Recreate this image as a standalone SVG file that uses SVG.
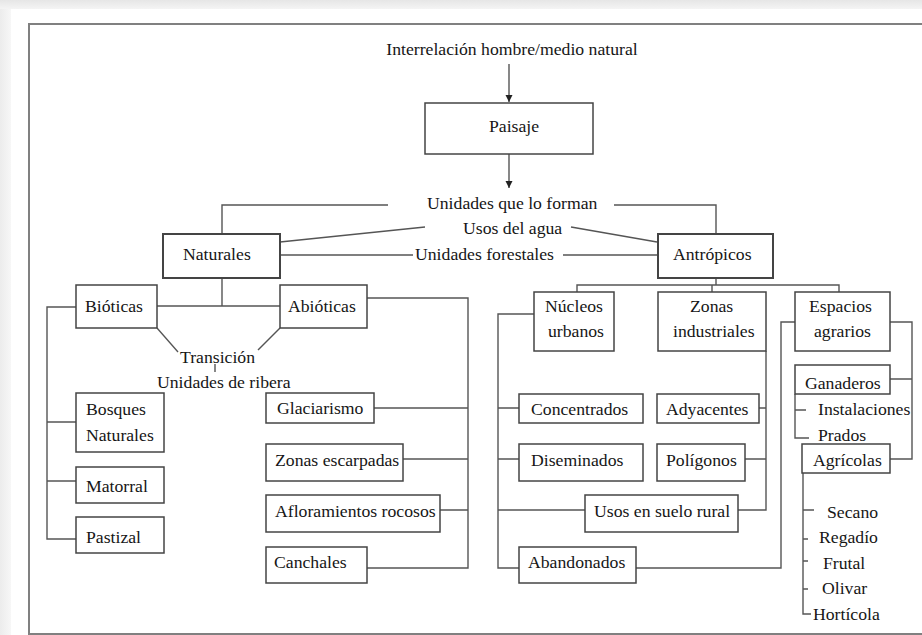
<svg xmlns="http://www.w3.org/2000/svg" width="922" height="635" viewBox="0 0 922 635">
<defs>
<linearGradient id="topband" x1="0" y1="0" x2="0" y2="1">
<stop offset="0" stop-color="#e6e6e6"/>
<stop offset="1" stop-color="#f4f4f4"/>
</linearGradient>
<linearGradient id="leftband" x1="0" y1="0" x2="1" y2="0">
<stop offset="0" stop-color="#ececec"/>
<stop offset="1" stop-color="#f7f7f7"/>
</linearGradient>
<marker id="arr" markerWidth="8" markerHeight="8" refX="7" refY="3.5" orient="auto" markerUnits="userSpaceOnUse">
<path d="M0,0 L7,3.5 L0,7 z" fill="#222"/>
</marker>
</defs>
<style>
.box{fill:#fff;stroke:#444;stroke-width:1.5}
.bold{stroke-width:2}
.t{font-family:"Liberation Serif","Times New Roman",serif;font-size:17.7px;fill:#161616}
.m{text-anchor:middle}
.ln{fill:none;stroke:#555;stroke-width:1.4}
</style>
<rect width="922" height="635" fill="#fff"/>
<rect x="0" y="0" width="922" height="9" fill="url(#topband)"/>
<rect x="0" y="9" width="11" height="626" fill="url(#leftband)"/>
<path d="M922,24 H29 V634 H922" fill="none" stroke="#808080" stroke-width="2"/>

<g id="connectors">
<path class="ln" d="M509,64 V102" marker-end="url(#arr)"/>
<path class="ln" d="M509,154 V188" marker-end="url(#arr)"/>
<path class="ln" d="M388,205 H222 V234"/>
<path class="ln" d="M614,205 H716 V234"/>
<path class="ln" d="M280,242 L425,227"/>
<path class="ln" d="M571,227 L657,242"/>
<path class="ln" d="M280,255 H413"/>
<path class="ln" d="M563,255 H657"/>
<path class="ln" d="M222,278 V306"/>
<path class="ln" d="M157,306 H280"/>
<path class="ln" d="M157,328 L178,352"/>
<path class="ln" d="M280,328 L258,350"/>
<path class="ln" d="M215,364 V372" stroke-width="1"/>
<path class="ln" d="M76,307 H47 V539 H76 M47,422 H76 M47,481 H76"/>
<path class="ln" d="M367,298 H468 V568 H367 M374,408 H468 M403,459 H468 M440,510 H468"/>
<path class="ln" d="M716,278 V285 M577,292 V285 H839 V292 M712,285 V292"/>
<path class="ln" d="M534,314 H498 V568 H519 M498,408 H519 M498,459 H519 M498,510 H585"/>
<path class="ln" d="M766,351 V510 H738 M759,408 H766 M745,459 H766"/>
<path class="ln" d="M795,322 H781 V568 H636"/>
<path class="ln" d="M890,322 H912 V459 H890 M890,379 H912"/>
<path class="ln" d="M795,394 V438 H809 M795,410 H806"/>
<path class="ln" d="M803,473 V614 H811 M803,510 H814 M803,539 H808 M803,561 H808 M803,589 H808"/>
</g>

<g id="title"><text class="t m" x="512" y="55">Interrelación hombre/medio natural</text></g>
<g id="paisaje"><rect class="box" x="425" y="103" width="168" height="51"/><text class="t" x="489" y="132">Paisaje</text></g>
<g id="unidades"><text class="t" x="427" y="209">Unidades que lo forman</text></g>
<g id="usos-agua"><text class="t" x="463" y="234">Usos del agua</text></g>
<g id="forestales"><text class="t" x="415" y="260">Unidades forestales</text></g>
<g id="naturales"><rect class="box bold" x="163" y="234" width="117" height="44"/><text class="t" x="183" y="260">Naturales</text></g>
<g id="antropicos"><rect class="box bold" x="658" y="234" width="115" height="44"/><text class="t" x="673" y="260">Antrópicos</text></g>
<g id="bioticas"><rect class="box" x="76" y="285" width="81" height="43"/><text class="t" x="85" y="312">Bióticas</text></g>
<g id="abioticas"><rect class="box" x="280" y="285" width="87" height="43"/><text class="t" x="288" y="312">Abióticas</text></g>
<g id="transicion"><text class="t" x="180" y="363">Transición</text></g>
<g id="ribera"><text class="t" x="157" y="388">Unidades de ribera</text></g>
<g id="bosques"><rect class="box" x="76" y="393" width="88" height="59"/><text class="t" x="86" y="415">Bosques</text><text class="t" x="86" y="441">Naturales</text></g>
<g id="matorral"><rect class="box" x="76" y="467" width="88" height="36"/><text class="t" x="86" y="492">Matorral</text></g>
<g id="pastizal"><rect class="box" x="76" y="517" width="88" height="36"/><text class="t" x="86" y="543">Pastizal</text></g>
<g id="glaciarismo"><rect class="box" x="266" y="393" width="108" height="30"/><text class="t" x="277" y="414">Glaciarismo</text></g>
<g id="escarpadas"><rect class="box" x="266" y="444" width="137" height="37"/><text class="t" x="275" y="466">Zonas escarpadas</text></g>
<g id="afloramientos"><rect class="box" x="266" y="495" width="174" height="37"/><text class="t" x="275" y="517">Afloramientos rocosos</text></g>
<g id="canchales"><rect class="box" x="266" y="547" width="101" height="36"/><text class="t" x="274" y="568">Canchales</text></g>
<g id="nucleos"><rect class="box" x="534" y="292" width="80" height="59"/><text class="t" x="545" y="312">Núcleos</text><text class="t" x="548" y="337">urbanos</text></g>
<g id="zonas-ind"><rect class="box" x="658" y="292" width="108" height="59"/><text class="t" x="690" y="312">Zonas</text><text class="t" x="673" y="337">industriales</text></g>
<g id="espacios"><rect class="box" x="795" y="292" width="95" height="59"/><text class="t" x="809" y="312">Espacios</text><text class="t" x="814" y="337">agrarios</text></g>
<g id="concentrados"><rect class="box" x="519" y="394" width="124" height="29"/><text class="t" x="531" y="415">Concentrados</text></g>
<g id="diseminados"><rect class="box" x="519" y="444" width="124" height="37"/><text class="t" x="531" y="466">Diseminados</text></g>
<g id="suelo-rural"><rect class="box" x="585" y="495" width="153" height="37"/><text class="t" x="594" y="517">Usos en suelo rural</text></g>
<g id="abandonados"><rect class="box" x="519" y="547" width="117" height="36"/><text class="t" x="528" y="568">Abandonados</text></g>
<g id="adyacentes"><rect class="box" x="657" y="394" width="102" height="29"/><text class="t" x="666" y="415">Adyacentes</text></g>
<g id="poligonos"><rect class="box" x="657" y="444" width="88" height="37"/><text class="t" x="666" y="466">Polígonos</text></g>
<g id="ganaderos"><rect class="box" x="795" y="365" width="95" height="29"/><text class="t" x="805" y="389">Ganaderos</text></g>
<g id="instalaciones"><text class="t" x="818" y="415">Instalaciones</text></g>
<g id="prados"><text class="t" x="818" y="441">Prados</text></g>
<g id="agricolas"><rect class="box" x="802" y="444" width="88" height="29"/><text class="t" x="813" y="466">Agrícolas</text></g>
<g id="secano"><text class="t" x="827" y="518">Secano</text></g>
<g id="regadio"><text class="t" x="819" y="543">Regadío</text></g>
<g id="frutal"><text class="t" x="823" y="569">Frutal</text></g>
<g id="olivar"><text class="t" x="822" y="594">Olivar</text></g>
<g id="horticola"><text class="t" x="813" y="620">Hortícola</text></g>
</svg>
